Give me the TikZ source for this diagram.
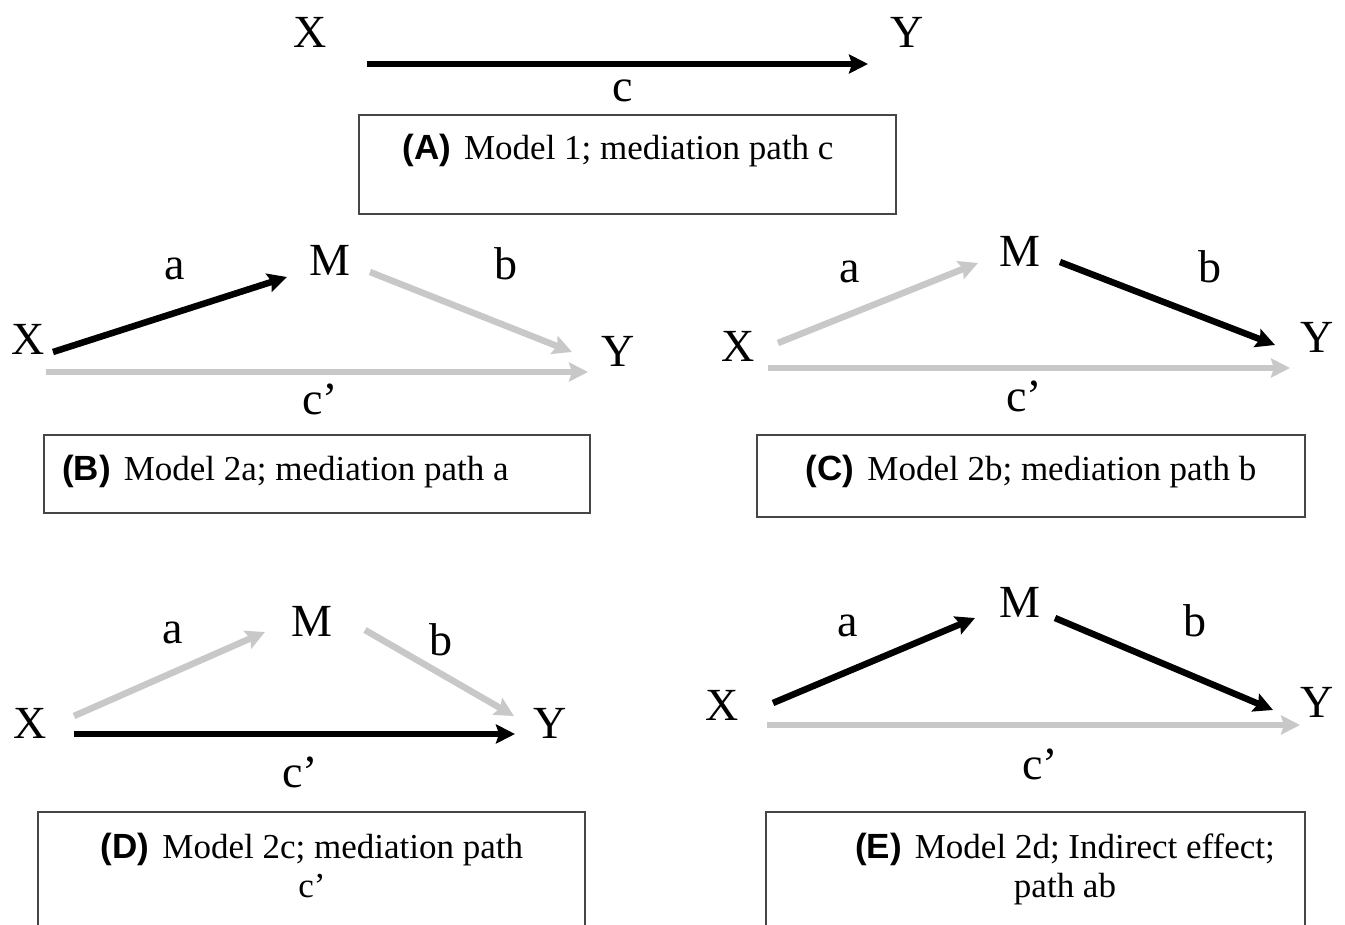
\documentclass[tikz,border=0pt]{standalone}
\usepackage{fontspec}
\setmainfont{Liberation Serif}
\newfontfamily\tagfont{Liberation Sans}
\usetikzlibrary{arrows.meta}
\definecolor{pathgray}{RGB}{200,200,200}
\definecolor{boxline}{RGB}{70,70,70}
\newcommand{\paneltag}[1]{{\tagfont\bfseries (#1)}\hspace{13pt}}

\begin{document}
\begin{tikzpicture}[x=1pt, y=-1pt,
        var/.style={inner sep=0pt, anchor=base, font=\fontsize{46}{50}\selectfont},
        capbox/.style={draw=boxline, line width=1.4pt, inner sep=0pt},
        caption/.style={inner sep=0pt, anchor=base, font=\fontsize{35}{39}\selectfont},
        sig/.style={-{Stealth[length=19pt,width=19pt,inset=3pt]}, line width=6.5pt, black},
        nonsig/.style={-{Stealth[length=19pt,width=19pt,inset=3pt]}, line width=6.5pt, pathgray}
    ]
        \fill[white] (0,0) rectangle (1345,925);
        \clip (0,0) rectangle (1345,925);

        % (A) total effect
        \node[var] (xA) at (310,48) {X};
        \node[var] (yA) at (907,48) {Y};
        \node[var] (cA) at (623,102) {c};
        \draw[sig] ([shift={(57,16)}]xA.base) -- ([shift={(-39,16)}]yA.base);
        \node[capbox, minimum width=537pt, minimum height=99pt] (boxA) at (627.5,164.5) {};
        \node[caption] (capA) at (618,160) {\paneltag{A}Model 1; mediation path c};

        % (B) path a
        \node[var] (xB) at (28,355) {X};
        \node[var] (mB) at (330,276) {M};
        \node[var] (yB) at (618,367) {Y};
        \node[var] (aB) at (175,280) {a};
        \node[var] (bB) at (506,280) {b};
        \node[var] (cpB) at (320,415) {c’};
        \draw[sig] ([shift={(25,-3)}]xB.base) -- ([shift={(-43,1)}]mB.base);
        \draw[nonsig] ([shift={(40,-4)}]mB.base) -- ([shift={(-46,-15)}]yB.base);
        \draw[nonsig] ([shift={(18,17)}]xB.base) -- ([shift={(-30,5)}]yB.base);
        \node[capbox, minimum width=546pt, minimum height=78pt] (boxB) at (317,474) {};
        \node[caption, anchor=base west] (capB) at (62,480) {\paneltag{B}Model 2a; mediation path a};

        % (C) path b
        \node[var] (xC) at (738,362) {X};
        \node[var] (mC) at (1020,267) {M};
        \node[var] (yC) at (1317,353) {Y};
        \node[var] (aC) at (850,283) {a};
        \node[var] (bC) at (1210,283) {b};
        \node[var] (cpC) at (1024,412) {c’};
        \draw[nonsig] ([shift={(40,-19)}]xC.base) -- ([shift={(-42,-4)}]mC.base);
        \draw[sig] ([shift={(40,-5)}]mC.base) -- ([shift={(-42,-8)}]yC.base);
        \draw[nonsig] ([shift={(30,6)}]xC.base) -- ([shift={(-27,15)}]yC.base);
        \node[capbox, minimum width=548pt, minimum height=82pt] (boxC) at (1031,476) {};
        \node[caption] (capC) at (1031,480) {\paneltag{C}Model 2b; mediation path b};

        % (D) path c'
        \node[var] (xD) at (30,738) {X};
        \node[var] (mD) at (312,636) {M};
        \node[var] (yD) at (550,738) {Y};
        \node[var] (aD) at (173,643) {a};
        \node[var] (bD) at (441,655) {b};
        \node[var] (cpD) at (300,787) {c’};
        \draw[nonsig] ([shift={(44,-22)}]xD.base) -- ([shift={(-47,-4)}]mD.base);
        \draw[nonsig] ([shift={(53,-6)}]mD.base) -- ([shift={(-36,-22)}]yD.base);
        \draw[sig] ([shift={(44,-4)}]xD.base) -- ([shift={(-35,-4)}]yD.base);
        \node[capbox, minimum width=547pt, minimum height=160pt] (boxD) at (311.5,892) {};
        \node[caption, align=center] (capD) at (312,897) {\paneltag{D}Model 2c; mediation path\\c’};

        % (E) indirect effect ab
        \node[var] (xE) at (722,720) {X};
        \node[var] (mE) at (1020,617) {M};
        \node[var] (yE) at (1317,717) {Y};
        \node[var] (aE) at (848,636) {a};
        \node[var] (bE) at (1195,636) {b};
        \node[var] (cpE) at (1040,779) {c’};
        \draw[sig] ([shift={(51,-17)}]xE.base) -- ([shift={(-45,1)}]mE.base);
        \draw[sig] ([shift={(35,1)}]mE.base) -- ([shift={(-44,-7)}]yE.base);
        \draw[nonsig] ([shift={(45,5)}]xE.base) -- ([shift={(-17,8)}]yE.base);
        \node[capbox, minimum width=539pt, minimum height=160pt] (boxE) at (1035.5,892) {};
        \node[caption, align=center] (capE) at (1065,897) {\paneltag{E}Model 2d; Indirect effect;\\path ab};
    \end{tikzpicture}
\end{document}
